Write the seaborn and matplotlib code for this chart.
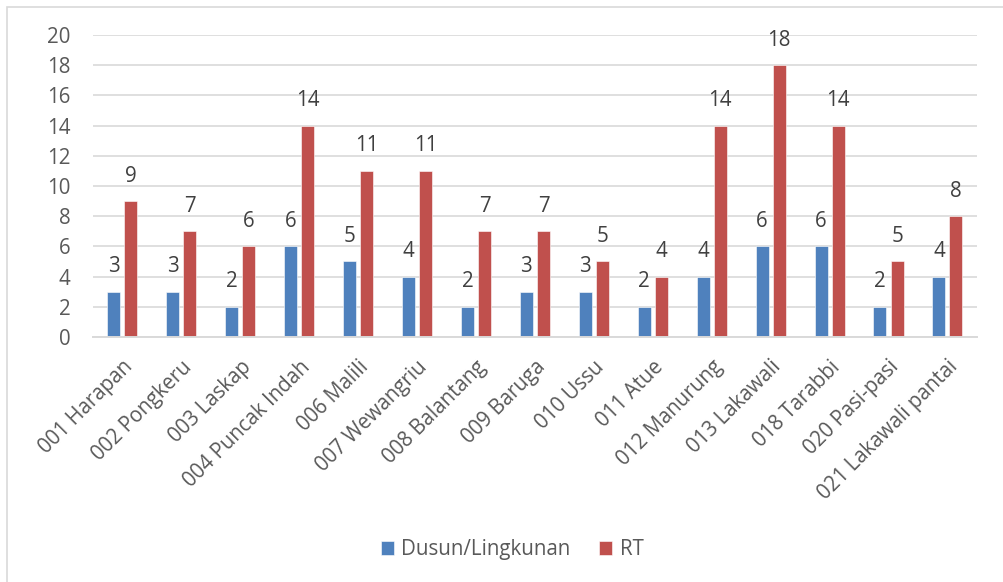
import matplotlib
matplotlib.use("Agg")
import matplotlib.pyplot as plt
import matplotlib.patches as mpatches
import pandas as pd
import seaborn as sns

categories = [
    "001 Harapan", "002 Pongkeru", "003 Laskap", "004 Puncak Indah",
    "006 Malili", "007 Wewangriu", "008 Balantang", "009 Baruga",
    "010 Ussu", "011 Atue", "012 Manurung", "013 Lakawali",
    "018 Tarabbi", "020 Pasi-pasi", "021 Lakawali pantai",
]
dusun = [3, 3, 2, 6, 5, 4, 2, 3, 3, 2, 4, 6, 6, 2, 4]
rt = [9, 7, 6, 14, 11, 11, 7, 7, 5, 4, 14, 18, 14, 5, 8]
series_names = ["Dusun/Lingkunan", "RT"]
yticks = list(range(0, 21, 2))

df = pd.DataFrame({
    "kategori": categories * 2,
    "seri": [series_names[0]] * len(categories) + [series_names[1]] * len(categories),
    "nilai": dusun + rt,
})

sns.set_theme(style="white")
plt.rcParams["font.family"] = ["Open Sans", "DejaVu Sans"]

text_color = "#595959"
grid_color = "#D9D9D9"
palette = {series_names[0]: "#4F81BD", series_names[1]: "#C0504D"}
fs = 14.8

fig = plt.figure(figsize=(10.04, 5.82), dpi=100)
ax = fig.add_axes([0.0926, 0.421, 0.8804, 0.519])

sns.barplot(
    data=df, x="kategori", y="nilai", hue="seri", order=categories,
    hue_order=series_names, palette=palette, width=0.58, gap=0.24,
    saturation=1, edgecolor="white", linewidth=0.4, ax=ax, legend=True,
)

# value labels above each bar
for container in ax.containers:
    for bar in container:
        h = bar.get_height()
        ax.annotate(
            f"{h:g}", (bar.get_x() + bar.get_width() / 2, h),
            xytext=(0, 18), textcoords="offset points",
            ha="center", va="center", fontsize=fs, color="#404040",
        )

ax.set_ylim(0, 20)
ax.set_xlim(-0.5, len(categories) - 0.5)
ax.set_yticks(yticks)
ax.set_yticklabels([str(t) for t in yticks], fontsize=fs, color=text_color)
ax.set_xticks(range(len(categories)))
ax.set_xticklabels(categories, rotation=45, ha="right", rotation_mode="anchor",
                   fontsize=fs, color=text_color)
ax.tick_params(axis="both", length=0)
ax.tick_params(axis="y", pad=16)
ax.tick_params(axis="x", pad=14)
ax.set_xlabel("")
ax.set_ylabel("")

ax.yaxis.grid(True, color=grid_color, linewidth=1.2)
ax.set_axisbelow(True)
for side in ["top", "right", "left"]:
    ax.spines[side].set_visible(False)
ax.spines["bottom"].set_color(grid_color)
ax.spines["bottom"].set_linewidth(1.4)

handles, labels = ax.get_legend_handles_labels()
ax.legend_.remove()
fig.legend(
    handles, labels, loc="center", bbox_to_anchor=(0.51, 0.055), ncol=2,
    frameon=False, fontsize=fs, labelcolor=text_color, handlelength=0.65,
    handleheight=0.65, handletextpad=0.35, columnspacing=1.4,
)

# chart frame
fig.patches.append(mpatches.Rectangle(
    (0.007, -0.1), 1.1, 1.088, transform=fig.transFigure,
    fill=False, edgecolor=grid_color, linewidth=1.2,
))

fig.savefig("out.png", dpi=100)
